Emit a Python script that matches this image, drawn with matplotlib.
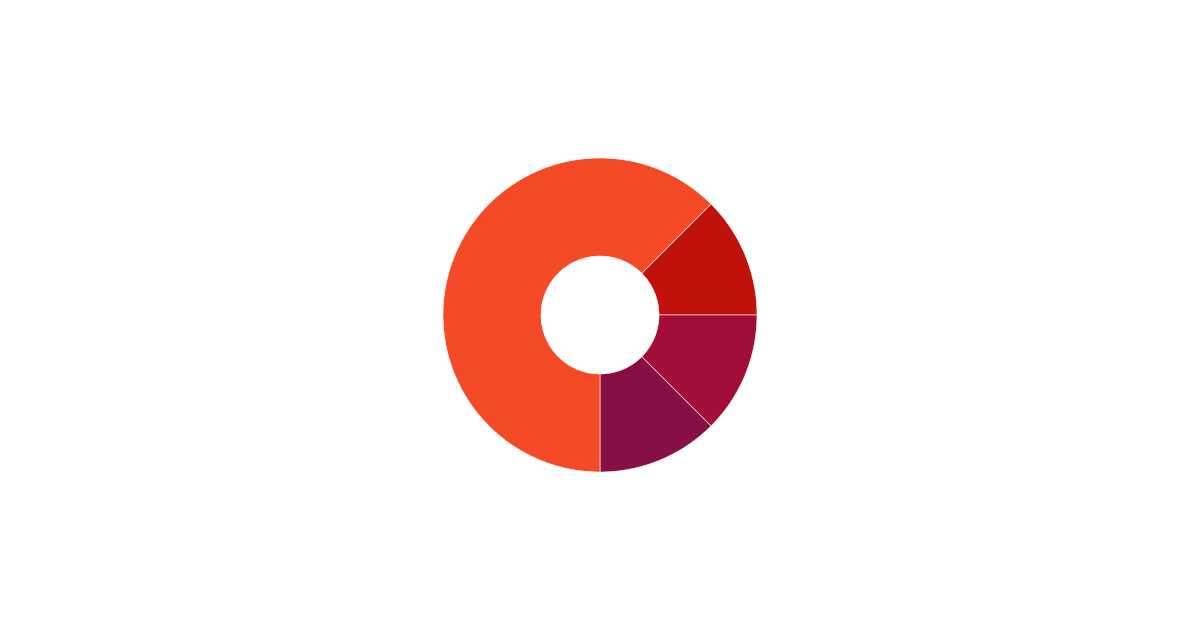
import matplotlib
matplotlib.use("Agg")
import matplotlib.pyplot as plt

categories = ["A", "B", "C", "D"]
values = [1, 1, 1, 5]
colors = ["#C0120A", "#A20E37", "#870F44", "#F44A27"]

fig = plt.figure(figsize=(12, 6.3), dpi=100)
ax = fig.add_axes([0, 0, 1, 1])
ax.pie(values, colors=colors, startangle=45, counterclock=False,
       radius=157, center=(0, 0),
       wedgeprops=dict(width=98, edgecolor="white", linewidth=0.4))
ax.set_xlim(-600, 600)
ax.set_ylim(-315, 315)
ax.set_aspect("equal")
ax.axis("off")
fig.savefig("out.png", dpi=100, facecolor="white")
